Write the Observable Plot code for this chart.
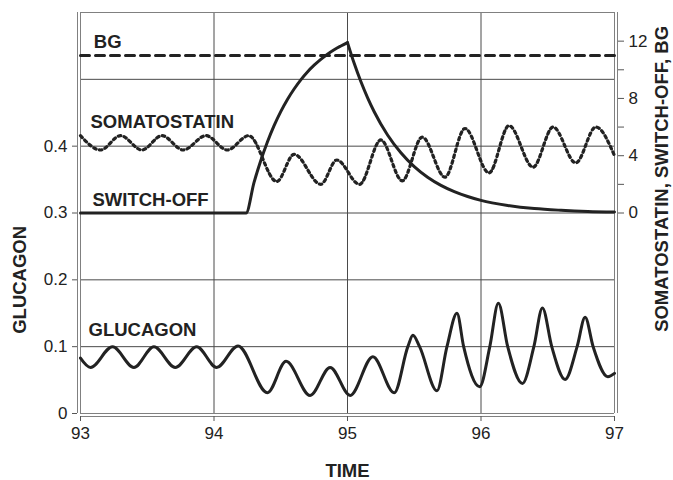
<!DOCTYPE html>
<html><head><meta charset="utf-8">
<script src="https://cdn.jsdelivr.net/npm/d3@7"></script>
<script src="https://cdn.jsdelivr.net/npm/@observablehq/plot@0.6"></script>
<style>
body{margin:0;background:#fff}
svg{font-family:Arial,"Liberation Sans",Helvetica,sans-serif}
</style>
</head><body><div id="chart"></div>
<script>
// ---- data (time in arbitrary units) ----
const glucagonT = [93.00,93.075,93.24,93.40,93.55,93.71,93.87,94.02,94.18,94.40,94.54,94.72,94.87,95.02,95.19,95.35,95.452,95.49,95.54,95.67,95.745,95.82,95.87,95.99,96.066,96.13,96.20,96.31,96.396,96.46,96.53,96.63,96.72,96.78,96.84,96.95,97.00];
const glucagonV = [0.083,0.069,0.100,0.069,0.100,0.069,0.100,0.069,0.101,0.031,0.078,0.027,0.069,0.027,0.085,0.031,0.100,0.117,0.100,0.034,0.100,0.150,0.100,0.040,0.100,0.165,0.100,0.045,0.100,0.158,0.100,0.051,0.100,0.144,0.100,0.055,0.060];

const somatoT = [93.00,93.15,93.30,93.46,93.61,93.77,93.94,94.10,94.26,94.47,94.60,94.80,94.92,95.09,95.25,95.41,95.56,95.73,95.88,96.06,96.21,96.39,96.54,96.71,96.86,97.00];
const somatoV = [5.4,4.4,5.4,4.4,5.4,4.4,5.4,4.4,5.4,2.2,4.1,2.0,3.7,2.0,5.1,2.25,5.3,2.5,5.9,2.8,6.1,3.2,6.0,3.5,6.0,4.0];

const switchRiseT = [93.00,94.24,94.30,94.35,94.40,94.45,94.50,94.55,94.60,94.65,94.70,94.75,94.80,94.85,94.90,94.95,95.00];
const switchRiseV = [0,0,2.14,3.65,4.96,6.10,7.08,7.93,8.66,9.30,9.85,10.32,10.73,11.09,11.40,11.66,11.9];
const switchDecayT = [95.00,95.05,95.10,95.15,95.20,95.30,95.40,95.50,95.60,95.70,95.80,95.90,96.00,96.20,96.40,96.60,96.80,97.00];
const switchDecayV = [11.9,10.45,9.18,8.06,7.07,5.45,4.21,3.24,2.50,1.93,1.49,1.15,0.88,0.53,0.31,0.19,0.11,0.07];

const bgT = [93, 97];
const bgV = [11, 11];

const leftTicks = [0, 0.1, 0.2, 0.3, 0.4];
const rightTicks = [0, 4, 8, 12];
const rightMinorTicks = [2, 6, 10];
const xTicks = [93, 94, 95, 96, 97];
const gridYVals = [0.1, 0.2, 0.3, 0.4, 0.5];
const gridXVals = [94, 95, 96];

const seriesLabels = ["BG", "SOMATOSTATIN", "SWITCH-OFF", "GLUCAGON"];
const seriesLabelT = [93.1, 93.075, 93.09, 93.06];
const seriesLabelY = [0.556, 0.436, 0.3195, 0.1245];

// ---- scales: left axis 0..0.6, right axis -14..14 mapped onto it ----
const L_MAX = 0.6, R_MIN = -14, R_MAX = 14;
const toLeft = v => (v - R_MIN) / (R_MAX - R_MIN) * L_MAX;
const fromLeft = y => y / L_MAX * (R_MAX - R_MIN) + R_MIN;

const pts = (T, V, f = d => d) => T.map((t, i) => ({t, v: f(V[i])}));
const glucagon = pts(glucagonT, glucagonV);
const somato = pts(somatoT, somatoV, toLeft);
const switchOff = [
  ...pts(switchRiseT, switchRiseV, toLeft).map(d => ({...d, seg: "rise"})),
  ...pts(switchDecayT, switchDecayV, toLeft).map(d => ({...d, seg: "decay"}))
];
const bg = pts(bgT, bgV, toLeft);
const labels = seriesLabels.map((s, i) => ({s, t: seriesLabelT[i], y: seriesLabelY[i]}));

const INK = "#222";
const GRID = "#4a4a4a";
const FRAME = "#808080";

const chart = Plot.plot({
  width: 673,
  height: 480,
  marginLeft: 80,
  marginRight: 59,
  marginTop: 12,
  marginBottom: 67,
  style: {fontFamily: "Arial, 'Liberation Sans', sans-serif", background: "#fff", color: INK},
  x: {domain: [93, 97]},
  y: {domain: [0, L_MAX]},
  marks: [
    Plot.ruleY(gridYVals, {stroke: GRID, strokeWidth: 1}),
    Plot.ruleX(gridXVals, {stroke: GRID, strokeWidth: 1}),
    Plot.ruleY([L_MAX], {stroke: FRAME, strokeWidth: 1}),
    // double frame lines
    Plot.ruleX([93], {stroke: FRAME, strokeWidth: 1}),
    Plot.ruleX([93], {stroke: FRAME, strokeWidth: 1, dx: -3}),
    Plot.ruleX([97], {stroke: FRAME, strokeWidth: 1}),
    Plot.ruleX([97], {stroke: FRAME, strokeWidth: 1, dx: 3}),
    Plot.ruleY([0], {stroke: FRAME, strokeWidth: 1}),
    Plot.ruleY([0], {stroke: FRAME, strokeWidth: 1, dy: 3}),
    // axes
    Plot.axisY(leftTicks, {anchor: "left", label: null, tickSize: 5, tickPadding: 5, dx: -3, fontSize: 17,
      tickFormat: d => d === 0 ? "0" : d.toFixed(1), stroke: "#555"}),
    Plot.axisY(rightTicks.map(toLeft), {anchor: "right", label: null, tickSize: 6, tickPadding: 5, dx: 3, fontSize: 17,
      tickFormat: d => String(Math.round(fromLeft(d))), stroke: "#555"}),
    Plot.axisY(rightMinorTicks.map(toLeft), {anchor: "right", label: null, tickSize: 6, dx: 3,
      tickFormat: () => "", stroke: "#555"}),
    Plot.axisX(xTicks, {anchor: "bottom", label: null, tickSize: 5, tickPadding: 5, dy: 3, fontSize: 17,
      tickFormat: d => String(d), stroke: "#555"}),
    // axis titles
    Plot.text(["GLUCAGON"], {y: () => 0.2, frameAnchor: "left", dx: -60, rotate: -90, text: d => d,
      textAnchor: "middle", fontWeight: "bold", fontSize: 18.5, fill: INK}),
    Plot.text(["SOMATOSTATIN, SWITCH-OFF, BG"], {y: () => 0.351, frameAnchor: "right", dx: 48, rotate: -90, text: d => d,
      textAnchor: "middle", fontWeight: "bold", fontSize: 18.5, fill: INK}),
    Plot.text(["TIME"], {x: () => 95, frameAnchor: "bottom", dy: 63, text: d => d,
      textAnchor: "middle", fontWeight: "bold", fontSize: 18.5, fill: INK}),
    // series
    Plot.line(bg, {x: "t", y: "v", stroke: INK, strokeWidth: 3, strokeDasharray: "9,6"}),
    Plot.line(somato, {x: "t", y: "v", curve: "monotone-x", stroke: INK, strokeWidth: 3.2, strokeDasharray: "2.6,3.4"}),
    Plot.line(switchOff, {x: "t", y: "v", z: "seg", curve: "monotone-x", stroke: INK, strokeWidth: 3}),
    Plot.line(glucagon, {x: "t", y: "v", curve: "monotone-x", stroke: INK, strokeWidth: 3}),
    // series labels
    Plot.text(labels, {x: "t", y: "y", text: "s", textAnchor: "start", fontWeight: "bold", fontSize: 18.5, fill: INK})
  ]
});
document.getElementById("chart").appendChild(chart);
</script>
</body></html>
